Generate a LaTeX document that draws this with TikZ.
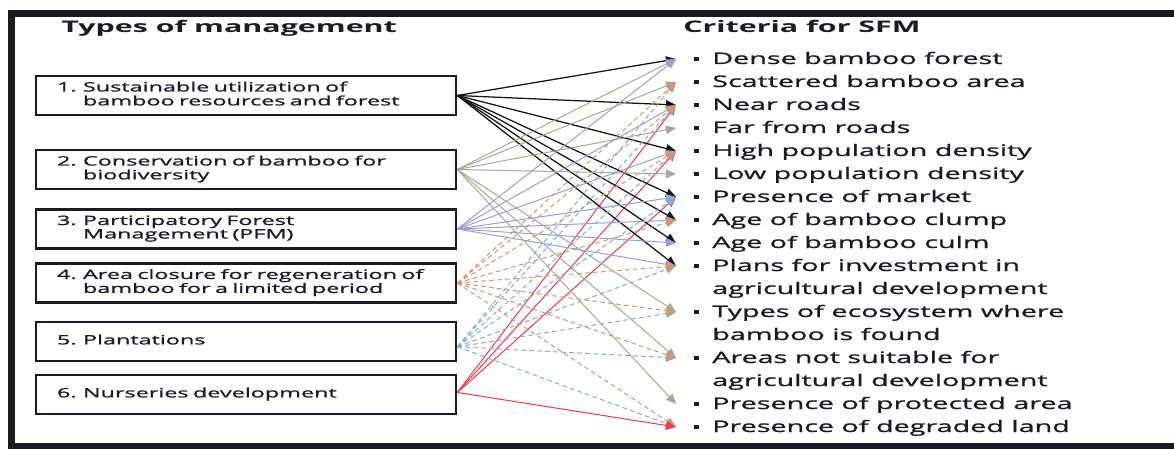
\documentclass[tikz,border=0pt]{standalone}
\usepackage{fontspec}
\usetikzlibrary{arrows.meta}
\newfontfamily\wf[FakeStretch=1.81, FakeBold=1.2]{Open Sans}
\newfontfamily\hf[FakeStretch=1.9]{Open Sans}
\definecolor{ink}{HTML}{1B1B26}
\definecolor{cBlack}{HTML}{141414}
\definecolor{cGray}{HTML}{A5AA95}
\definecolor{cBlue}{HTML}{9A9ED8}
\definecolor{cOrange}{HTML}{D8956A}
\definecolor{cSky}{HTML}{7EAFD2}
\definecolor{cRed}{HTML}{F23A4E}
\tikzset{
  mbox/.style={draw=ink, line width=2pt, rectangle, minimum height=29.25pt,
    text width=283.5pt, inner xsep=15.75pt, inner ysep=0pt, align=left,
    font=\wf\fontsize{9.7}{10.1}\selectfont, text=ink},
  crit/.style={anchor=base west, inner sep=0pt,
    font=\wf\fontsize{11.9}{17.25}\selectfont, text=ink},
  head/.style={anchor=base west, inner sep=0pt,
    font=\hf\bfseries\fontsize{12}{14}\selectfont, text=ink},
  link/.style={-{Triangle[length=7.5pt,width=6.5pt]}, line width=0.75pt},
  lkA/.style={link, draw=cBlack, line width=0.95pt},
  lkB/.style={link, draw=cGray},
  lkC/.style={link, draw=cBlue},
  lkD/.style={link, draw=cOrange, dash pattern=on 3.5pt off 2.5pt},
  lkE/.style={link, draw=cSky, dash pattern=on 3.5pt off 2.5pt},
  lkF/.style={link, draw=cRed},
}
\newcommand{\bul}{\llap{\rule[2.6pt]{3.4pt}{2.6pt}\hspace{10.1pt}}}
\newcommand{\twolines}[2]{\vtop{\baselineskip=17.25pt\hbox{#1}\hbox{#2}}}
\newcommand{\mtab}[3]{\begin{tabular}{@{}p{19.5pt}@{}l@{}}#1 & #2\\ & #3\end{tabular}}
\begin{document}
\begin{tikzpicture}[x=0.75pt,y=-0.75pt]
\useasboundingbox (0,0) rectangle (1174,449);
% frame
\draw[ink, line width=5pt] (1200,13.5) -| (11.5,446.5) -- (1200,446.5);
% headers
\node[head] (h1) at (61,33) {Types of management};
\node[head] (h2) at (683,33) {Criteria for SFM};
% management boxes
\node[mbox] (m1) at (246,95.5) {\mtab{1.}{Sustainable utilization of}{bamboo resources and forest}};
\node[mbox] (m2) at (246,169.5) {\mtab{2.}{Conservation of bamboo for}{biodiversity}};
\node[mbox] (m3) at (246,229) {\mtab{3.}{Participatory Forest}{Management (PFM)}};
\node[mbox] (m4) at (246,283) {\mtab{4.}{Area closure for regeneration of}{bamboo for a limited period}};
\node[mbox] (m5) at (246,341.5) {\begin{tabular}{@{}p{19.5pt}@{}l@{}}5. & Plantations\end{tabular}};
\node[mbox] (m6) at (246,394.5) {\begin{tabular}{@{}p{19.5pt}@{}l@{}}6. & Nurseries development\end{tabular}};
% criteria
\node[crit] (c1) at (712,64) {\bul Dense bamboo forest};
\node[crit] (c2) at (712,87) {\bul Scattered bamboo area};
\node[crit] (c3) at (712,110) {\bul Near roads};
\node[crit] (c4) at (712,133) {\bul Far from roads};
\node[crit] (c5) at (712,156) {\bul High population density};
\node[crit] (c6) at (712,179) {\bul Low population density};
\node[crit] (c7) at (712,202) {\bul Presence of market};
\node[crit] (c8) at (712,225) {\bul Age of bamboo clump};
\node[crit] (c9) at (712,248) {\bul Age of bamboo culm};
\node[crit] (c10) at (712,271) {\bul\twolines{Plans for investment in}{agricultural development}};
\node[crit] (c11) at (712,317) {\bul\twolines{Types of ecosystem where}{bamboo is found}};
\node[crit] (c12) at (712,363) {\bul\twolines{Areas not suitable for}{agricultural development}};
\node[crit] (c13) at (712,409) {\bul Presence of protected area};
\node[crit] (c14) at (712,432) {\bul Presence of degraded land};
% arrow targets
\foreach \i/\b in {1/64,2/87,3/110,4/133,5/156,6/179,7/202,8/225,9/248,10/271,11/317,12/363,13/409,14/432}
  \coordinate (t\i) at (676,\b-5);
% sources
\coordinate (s1) at (m1.east);
\coordinate (s2) at (m2.east);
\coordinate (s3) at (m3.east);
\coordinate (s4) at (m4.east);
\coordinate (s5) at ([yshift=-4pt]m5.east);
\coordinate (s6) at ([yshift=1.5pt]m6.east);
% connectors
\foreach \t in {3,5,7} \draw[lkF] (s6) -- (t\t);
\foreach \t in {1,3,5,7,8,9,10} \draw[lkA] (s1) -- (t\t);
\foreach \t in {1,2,4,6,11,12,13} \draw[lkB] (s2) -- (t\t);
\foreach \t in {1,3,5,7,8,9,10} \draw[lkC] (s3) -- (t\t);
\foreach \t in {2,3,5,7,10,11,12,14} \draw[lkE] (s5) -- (t\t);
\foreach \t in {2,3,5,8,10,11,12,14} \draw[lkD] (s4) -- (t\t);
\draw[lkF] (s6) -- (t14);
\end{tikzpicture}
\end{document}
